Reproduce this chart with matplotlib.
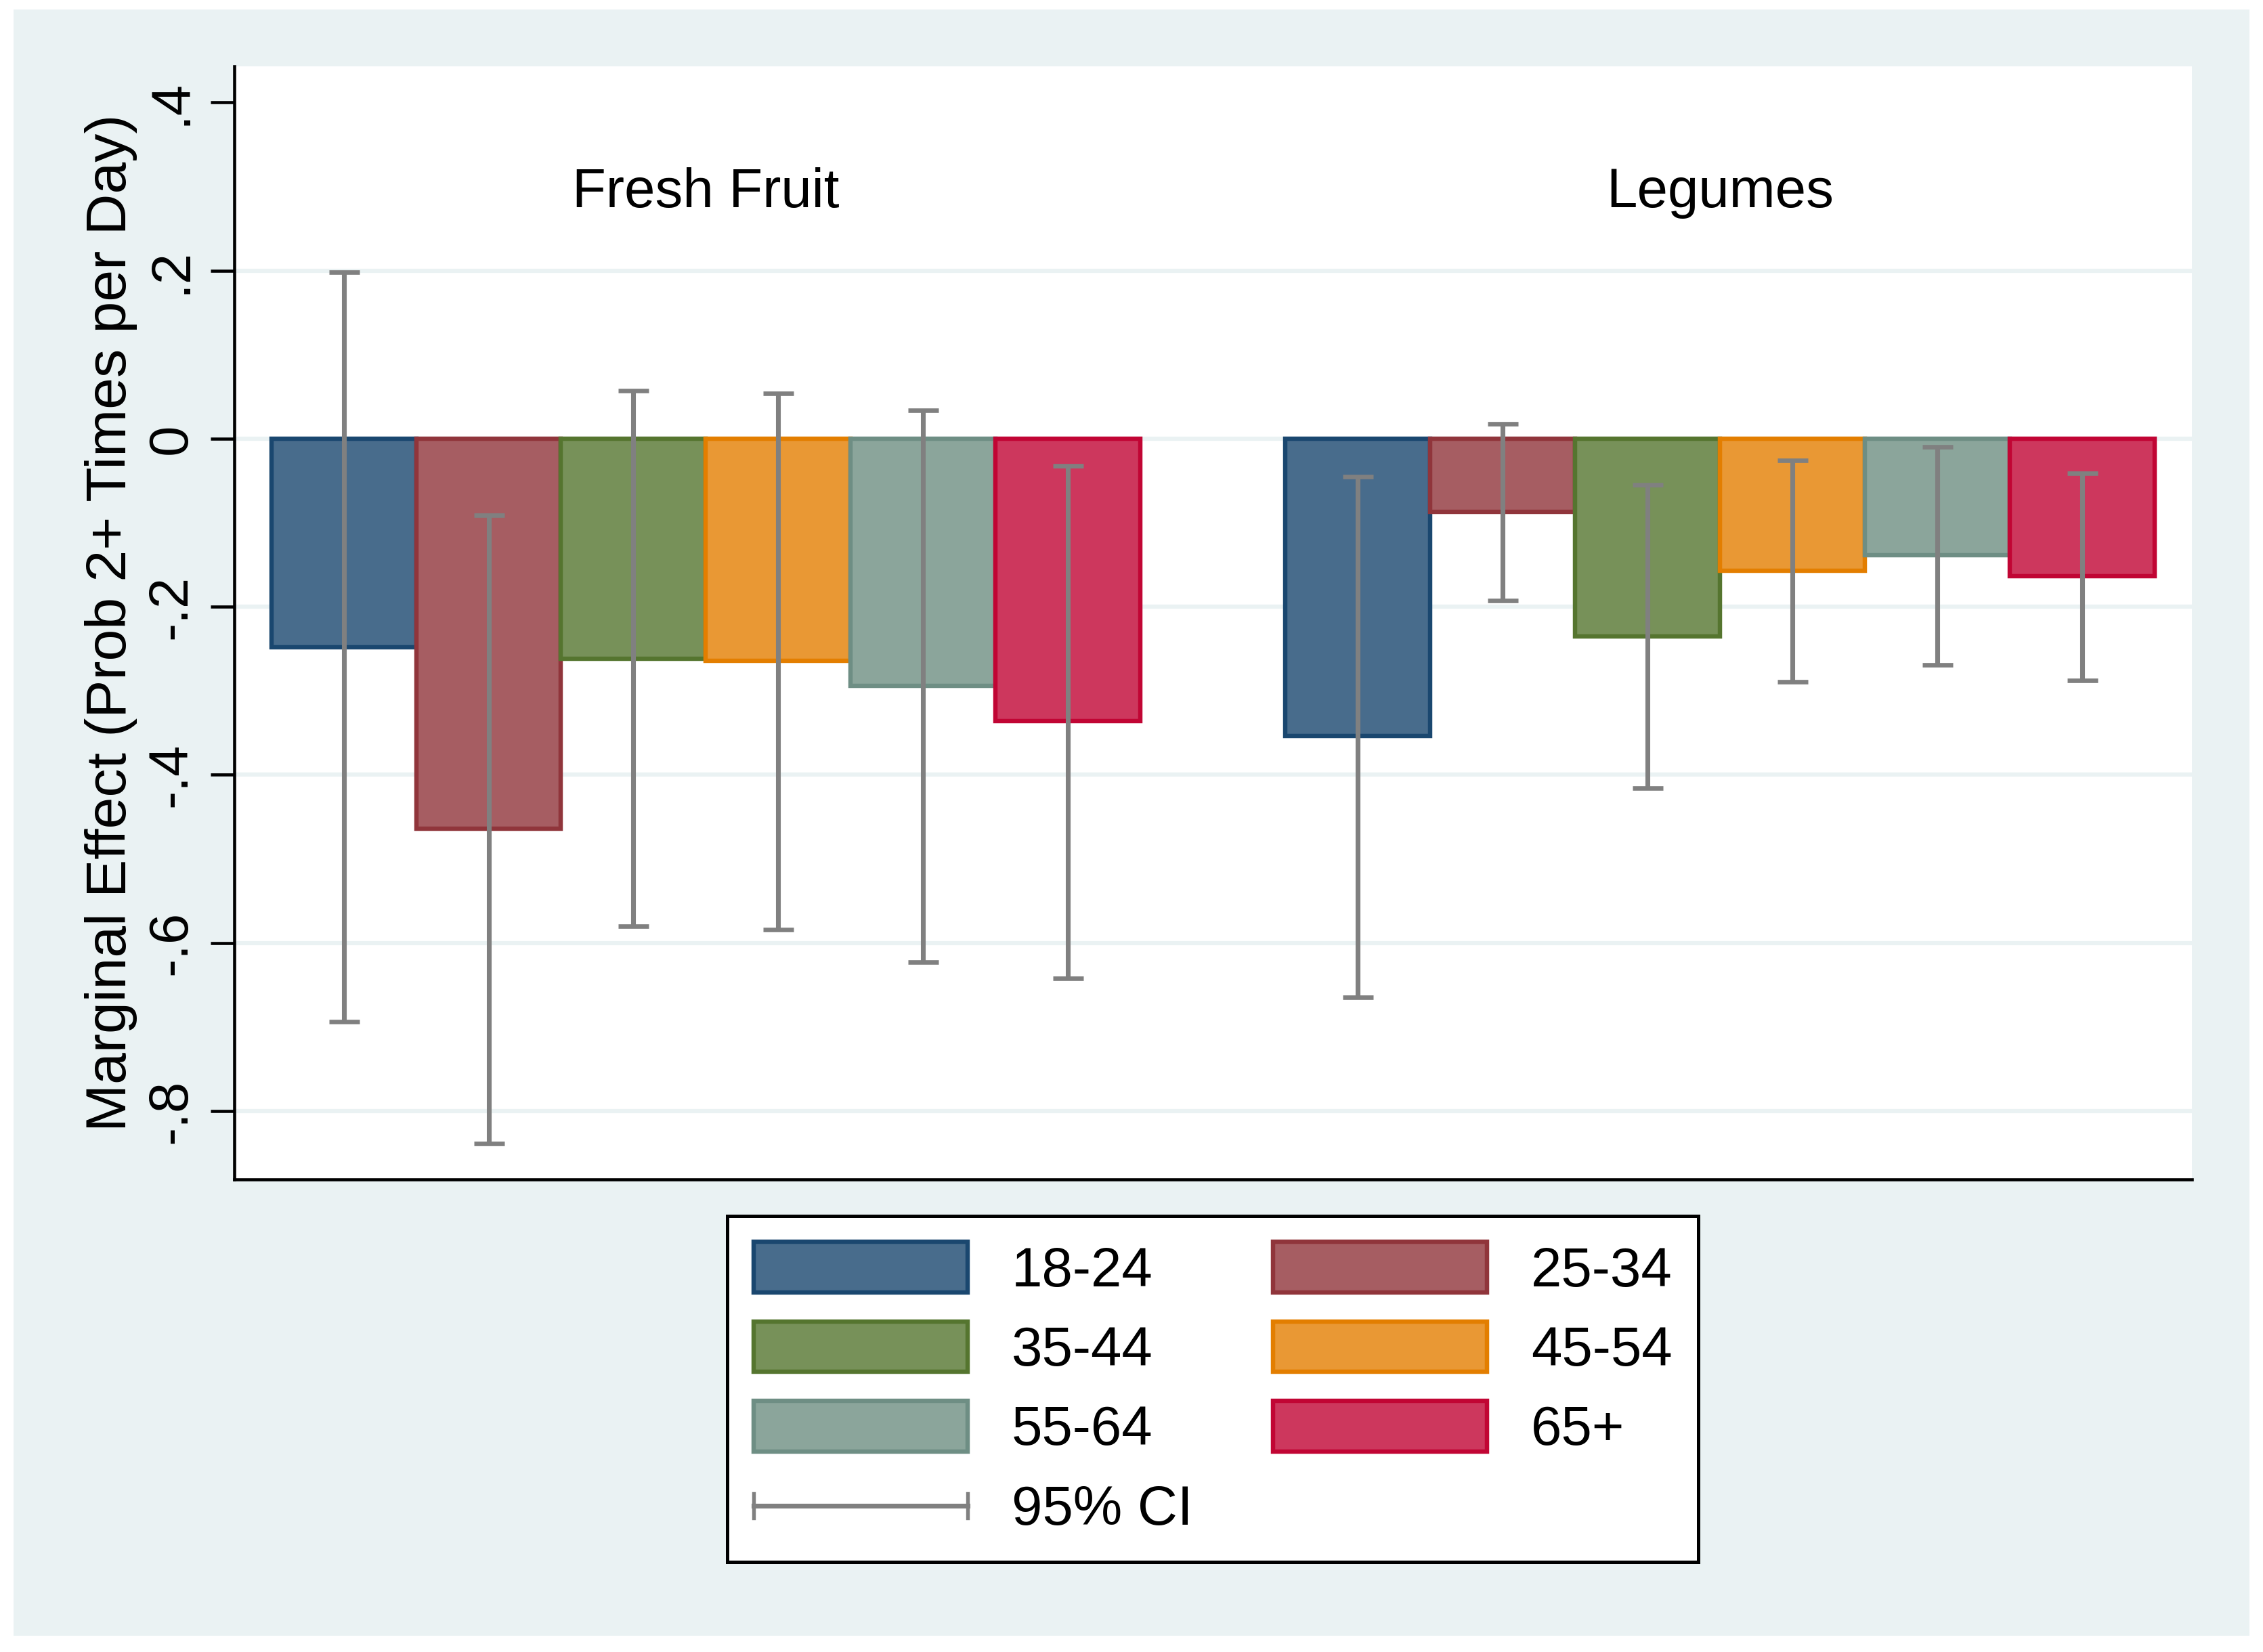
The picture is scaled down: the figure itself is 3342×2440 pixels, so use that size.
import matplotlib
matplotlib.use("Agg")
import matplotlib.pyplot as plt
from matplotlib.patches import Rectangle
from matplotlib.lines import Line2D
from matplotlib.legend_handler import HandlerBase

# ---------------- data ----------------
categories = ["Fresh Fruit", "Legumes"]
age_groups = ["18-24", "25-34", "35-44", "45-54", "55-64", "65+"]

fresh_fruit_effect = [-0.248, -0.464, -0.262, -0.264, -0.294, -0.336]
fresh_fruit_ci_low = [-0.694, -0.839, -0.580, -0.584, -0.623, -0.642]
fresh_fruit_ci_high = [0.198, -0.091, 0.057, 0.054, 0.034, -0.032]

legumes_effect = [-0.354, -0.087, -0.235, -0.157, -0.139, -0.164]
legumes_ci_low = [-0.665, -0.193, -0.416, -0.289, -0.269, -0.288]
legumes_ci_high = [-0.045, 0.018, -0.055, -0.026, -0.010, -0.041]

ytick_values = [0.4, 0.2, 0.0, -0.2, -0.4, -0.6, -0.8]
ytick_labels = [".4", ".2", "0", "-.2", "-.4", "-.6", "-.8"]
ylabel = "Marginal Effect (Prob 2+ Times per Day)"
ci_label = "95% CI"

# ---------------- style ----------------
edge_colors = ["#1A476F", "#90353B", "#55752F", "#E37E00", "#6E8E84", "#C10534"]
fill_colors = ["#486C8C", "#A65D62", "#779159", "#E99834", "#8BA59B", "#CD375D"]
bg_color = "#EAF2F3"
ci_color = "#808080"
FS = 19.6

plt.rcParams["font.family"] = ["Liberation Sans", "DejaVu Sans"]

W, H = 3342, 2440
DPI = 300
fig = plt.figure(figsize=(W / DPI, H / DPI), dpi=DPI, facecolor="white")

# outer graph region
fig.patches.append(Rectangle((20 / W, 24 / H), (3322 - 20) / W, (2440 - 14 - 24) / H,
                             transform=fig.transFigure, facecolor=bg_color,
                             edgecolor="none", zorder=-10))

ax_left, ax_right = 345.6 / W, 3237 / W
ax_bottom, ax_top = 1 - 1741.5 / H, 1 - 98 / H
ax = fig.add_axes([ax_left, ax_bottom, ax_right - ax_left, ax_top - ax_bottom])
ax.set_facecolor("white")

n = len(age_groups)
group_gap = 1
group_offsets = [g * (n + group_gap) for g in range(len(categories))]
effects = [fresh_fruit_effect, legumes_effect]
lows = [fresh_fruit_ci_low, legumes_ci_low]
highs = [fresh_fruit_ci_high, legumes_ci_high]

bar_handles = []
for i, age in enumerate(age_groups):
    xs = [off + i for off in group_offsets]
    vals = [effects[g][i] for g in range(len(categories))]
    b = ax.bar(xs, vals, width=1.0, color=fill_colors[i], edgecolor=edge_colors[i],
               linewidth=1.55, label=age, zorder=2)
    bar_handles.append(b)
    lo = [vals[g] - lows[g][i] for g in range(len(categories))]
    hi = [highs[g][i] - vals[g] for g in range(len(categories))]
    eb = ax.errorbar(xs, vals, yerr=[lo, hi], fmt="none", ecolor=ci_color,
                     elinewidth=1.7, capsize=5.4, capthick=1.6, zorder=3)
    for c in eb[1]:
        c.set_solid_capstyle("round")

# group titles
for g, cat in enumerate(categories):
    ax.text(group_offsets[g] + (n - 1) / 2, 0.2755, cat, ha="center", va="baseline",
            fontsize=FS, color="black", zorder=4)

ax.set_xlim(-0.757, group_offsets[-1] + n - 1 + 0.757)
ax.set_ylim(-0.881, 0.443)

ax.set_yticks(ytick_values)
ax.set_yticklabels(ytick_labels, rotation=90, va="center", fontsize=FS)
ax.tick_params(axis="y", length=8.4, width=1.1, pad=4.6, color="black")
ax.set_xticks([])
ax.set_ylabel(ylabel, fontsize=20.2)
ax.yaxis.set_label_coords(-0.0493, 0.5)

ax.yaxis.grid(True, color=bg_color, linewidth=1.5, zorder=1)
ax.set_axisbelow(True)
for val, gl in zip(ytick_values, ax.get_ygridlines()):
    if val == max(ytick_values):
        gl.set_visible(False)

for s in ["top", "right"]:
    ax.spines[s].set_visible(False)
for s in ["left", "bottom"]:
    ax.spines[s].set_linewidth(1.1)
    ax.spines[s].set_color("black")


class CIHandler(HandlerBase):
    def create_artists(self, legend, orig_handle, xdescent, ydescent, width, height, fontsize, trans):
        y = height / 2 - ydescent
        x0, x1 = -xdescent, width - xdescent
        h = 4.3
        line = Line2D([x0, x1], [y, y], color=ci_color, linewidth=1.7, transform=trans)
        c1 = Line2D([x0, x0], [y - h, y + h], color=ci_color, linewidth=1.3, transform=trans)
        c2 = Line2D([x1, x1], [y - h, y + h], color=ci_color, linewidth=1.3, transform=trans)
        return [line, c1, c2]


ci_handle = Line2D([], [], color=ci_color)
# matplotlib fills legend columns first; order so rows read 18-24, 25-34 / ...
handles = [bar_handles[0], bar_handles[2], bar_handles[4], ci_handle,
           bar_handles[1], bar_handles[3], bar_handles[5]]
labels = [age_groups[0], age_groups[2], age_groups[4], ci_label,
          age_groups[1], age_groups[3], age_groups[5]]

leg = fig.legend(handles, labels, loc="upper center",
                 bbox_to_anchor=((ax_left + ax_right) / 2, 1 - 1796 / H),
                 bbox_transform=fig.transFigure, ncol=2, fontsize=FS,
                 frameon=True, fancybox=False, edgecolor="black", facecolor="white",
                 framealpha=1, borderpad=0.47, borderaxespad=0.0,
                 handlelength=3.87, handleheight=1.03,
                 handletextpad=0.8, columnspacing=1.45, labelspacing=0.43,
                 handler_map={ci_handle: CIHandler()})
leg.get_frame().set_linewidth(1.2)

fig.savefig("out.png", dpi=DPI, facecolor="white")
